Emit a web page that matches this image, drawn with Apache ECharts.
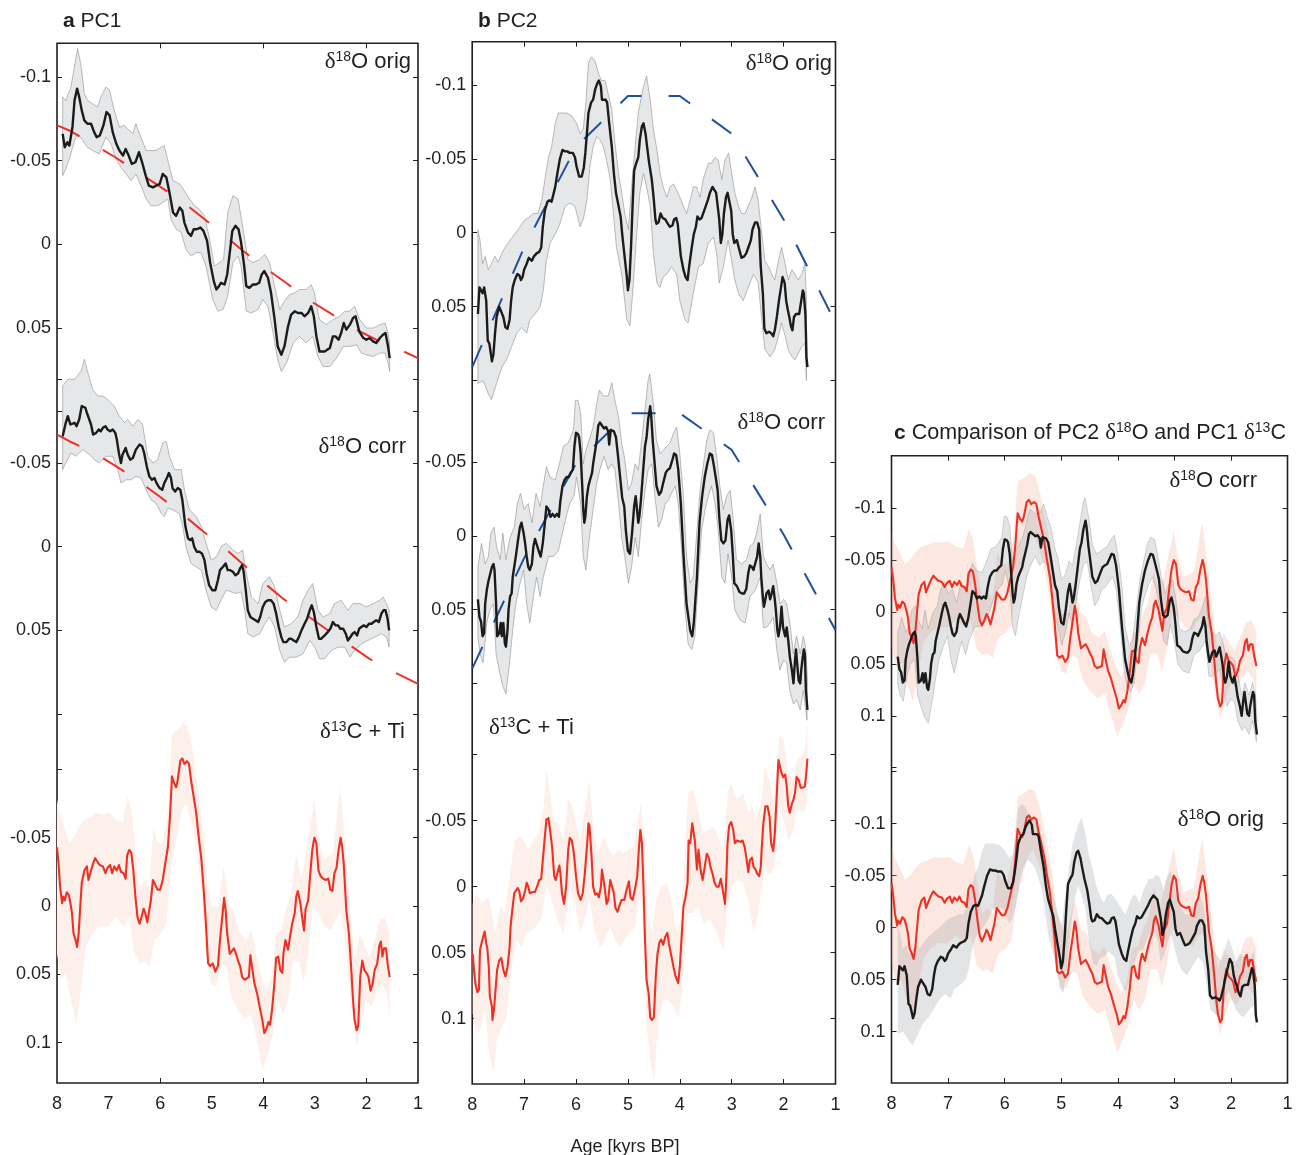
<!DOCTYPE html>
<html>
<head>
<meta charset="utf-8" />
<title>PC1 and PC2 of the stalagmite proxies (8-1.5 kyrs BP)</title>
<script src="https://cdn.jsdelivr.net/npm/echarts@6.0.0/dist/echarts.min.js"></script>
<style>body{margin:0;background:#fff}</style>
</head>
<body>
<div id="grafico" style="width:1298px;height:1155px"></div>
<script>
// ages in kyrs BP, PC scores
const pc1OrigLine = [[7.89,-0.066],[7.85,-0.058],[7.80,-0.061],[7.76,-0.059],[7.70,-0.070],[7.66,-0.086],[7.61,-0.093],[7.57,-0.088],[7.52,-0.080],[7.47,-0.074],[7.41,-0.072],[7.34,-0.072],[7.28,-0.067],[7.23,-0.064],[7.17,-0.065],[7.10,-0.071],[7.04,-0.079],[6.98,-0.077],[6.92,-0.067],[6.85,-0.060],[6.79,-0.056],[6.72,-0.053],[6.67,-0.057],[6.61,-0.053],[6.55,-0.048],[6.48,-0.049],[6.41,-0.055],[6.35,-0.049],[6.28,-0.041],[6.22,-0.035],[6.14,-0.034],[6.08,-0.035],[6.01,-0.036],[5.95,-0.042],[5.88,-0.040],[5.82,-0.031],[5.75,-0.019],[5.69,-0.017],[5.62,-0.022],[5.57,-0.020],[5.53,-0.013],[5.46,-0.007],[5.40,-0.005],[5.35,-0.009],[5.29,-0.009],[5.22,-0.010],[5.16,-0.008],[5.09,-0.002],[5.03,0.011],[4.96,0.022],[4.91,0.027],[4.86,0.025],[4.82,0.023],[4.79,0.024],[4.75,0.024],[4.70,0.018],[4.65,0.005],[4.60,-0.008],[4.54,-0.011],[4.48,-0.009],[4.43,-0.001],[4.37,0.013],[4.33,0.025],[4.27,0.026],[4.20,0.024],[4.14,0.024],[4.08,0.023],[4.03,0.018],[3.98,0.016],[3.91,0.020],[3.85,0.029],[3.78,0.045],[3.72,0.061],[3.65,0.066],[3.59,0.061],[3.52,0.049],[3.46,0.042],[3.39,0.040],[3.33,0.041],[3.26,0.041],[3.20,0.043],[3.13,0.041],[3.07,0.037],[3.02,0.043],[2.97,0.055],[2.91,0.064],[2.81,0.064],[2.71,0.062],[2.65,0.055],[2.60,0.055],[2.54,0.057],[2.49,0.053],[2.44,0.047],[2.39,0.051],[2.32,0.048],[2.26,0.044],[2.21,0.043],[2.14,0.052],[2.06,0.056],[2.00,0.057],[1.94,0.056],[1.87,0.058],[1.81,0.059],[1.74,0.056],[1.68,0.054],[1.63,0.053],[1.58,0.061],[1.55,0.068]];
const pc1OrigHi = [[7.89,-0.088],[7.83,-0.086],[7.73,-0.094],[7.64,-0.110],[7.60,-0.117],[7.53,-0.106],[7.47,-0.090],[7.41,-0.086],[7.31,-0.084],[7.21,-0.082],[7.15,-0.088],[7.05,-0.094],[6.98,-0.092],[6.89,-0.080],[6.79,-0.070],[6.69,-0.071],[6.63,-0.069],[6.53,-0.066],[6.47,-0.072],[6.40,-0.066],[6.27,-0.056],[6.18,-0.056],[6.08,-0.056],[5.98,-0.058],[5.92,-0.059],[5.85,-0.050],[5.75,-0.038],[5.62,-0.036],[5.53,-0.032],[5.43,-0.027],[5.33,-0.023],[5.24,-0.021],[5.14,-0.017],[5.04,-0.003],[4.95,0.013],[4.85,0.011],[4.77,0.009],[4.69,-0.019],[4.59,-0.029],[4.49,-0.027],[4.40,-0.011],[4.30,0.009],[4.20,0.011],[4.07,0.009],[3.97,0.006],[3.88,0.011],[3.78,0.025],[3.68,0.039],[3.59,0.034],[3.49,0.030],[3.39,0.029],[3.30,0.027],[3.17,0.027],[3.07,0.024],[3.01,0.029],[2.91,0.045],[2.78,0.048],[2.65,0.045],[2.52,0.043],[2.42,0.040],[2.33,0.040],[2.23,0.037],[2.13,0.045],[2.00,0.050],[1.87,0.050],[1.74,0.048],[1.64,0.047],[1.58,0.053],[1.55,0.059]];
const pc1OrigLo = [[7.89,-0.041],[7.83,-0.045],[7.75,-0.052],[7.66,-0.062],[7.60,-0.066],[7.50,-0.062],[7.41,-0.058],[7.31,-0.056],[7.18,-0.054],[7.05,-0.064],[6.95,-0.060],[6.86,-0.051],[6.76,-0.046],[6.66,-0.042],[6.56,-0.038],[6.47,-0.042],[6.37,-0.035],[6.27,-0.027],[6.18,-0.023],[6.05,-0.023],[5.95,-0.025],[5.85,-0.027],[5.79,-0.015],[5.69,-0.009],[5.59,-0.007],[5.50,0.003],[5.40,0.007],[5.30,0.005],[5.21,0.005],[5.11,0.013],[4.98,0.033],[4.88,0.040],[4.78,0.039],[4.69,0.031],[4.59,0.011],[4.49,0.007],[4.43,0.013],[4.33,0.040],[4.23,0.041],[4.10,0.039],[4.01,0.033],[3.91,0.037],[3.81,0.053],[3.72,0.069],[3.65,0.076],[3.55,0.071],[3.42,0.059],[3.30,0.055],[3.17,0.059],[3.04,0.055],[2.94,0.067],[2.84,0.073],[2.71,0.073],[2.58,0.068],[2.45,0.061],[2.32,0.061],[2.19,0.060],[2.10,0.065],[2.00,0.066],[1.87,0.067],[1.74,0.065],[1.64,0.065],[1.58,0.071],[1.55,0.076]];
const pc1OrigTrend = [[8.0,-0.071],[7.76,-0.068],[7.31,-0.060],[6.87,-0.052],[6.43,-0.043],[6.03,-0.035],[5.59,-0.026],[5.18,-0.016],[4.78,-0.006],[4.39,0.004],[3.97,0.014],[3.56,0.023],[3.13,0.033],[2.71,0.041],[2.26,0.050],[1.81,0.057],[1.35,0.063],[1.0,0.068]];

const pc1CorrLine = [[7.89,-0.066],[7.86,-0.070],[7.83,-0.074],[7.79,-0.078],[7.76,-0.077],[7.74,-0.073],[7.71,-0.074],[7.66,-0.074],[7.62,-0.072],[7.57,-0.076],[7.52,-0.084],[7.49,-0.085],[7.45,-0.083],[7.42,-0.080],[7.39,-0.080],[7.34,-0.073],[7.30,-0.067],[7.24,-0.068],[7.19,-0.070],[7.15,-0.069],[7.11,-0.071],[7.06,-0.072],[7.02,-0.070],[6.97,-0.069],[6.92,-0.070],[6.87,-0.068],[6.84,-0.064],[6.80,-0.056],[6.76,-0.050],[6.73,-0.055],[6.67,-0.059],[6.63,-0.055],[6.58,-0.052],[6.53,-0.053],[6.47,-0.058],[6.40,-0.061],[6.35,-0.060],[6.31,-0.056],[6.26,-0.048],[6.21,-0.042],[6.16,-0.040],[6.11,-0.041],[6.07,-0.038],[6.01,-0.035],[5.96,-0.034],[5.92,-0.038],[5.87,-0.041],[5.83,-0.044],[5.79,-0.041],[5.76,-0.035],[5.71,-0.033],[5.66,-0.035],[5.61,-0.034],[5.57,-0.028],[5.54,-0.020],[5.51,-0.012],[5.46,-0.005],[5.42,-0.004],[5.38,-0.005],[5.34,0.000],[5.29,0.003],[5.24,0.003],[5.19,0.004],[5.14,0.008],[5.10,0.016],[5.05,0.023],[4.99,0.026],[4.93,0.026],[4.88,0.020],[4.84,0.014],[4.78,0.012],[4.73,0.010],[4.69,0.014],[4.64,0.014],[4.59,0.015],[4.54,0.017],[4.49,0.016],[4.45,0.013],[4.41,0.011],[4.38,0.015],[4.34,0.026],[4.30,0.038],[4.25,0.042],[4.20,0.043],[4.15,0.044],[4.10,0.045],[4.06,0.042],[4.01,0.036],[3.96,0.033],[3.91,0.032],[3.85,0.032],[3.80,0.034],[3.75,0.040],[3.70,0.048],[3.65,0.054],[3.61,0.057],[3.55,0.057],[3.50,0.055],[3.46,0.055],[3.41,0.056],[3.36,0.057],[3.31,0.054],[3.26,0.050],[3.20,0.046],[3.15,0.043],[3.10,0.038],[3.06,0.035],[3.02,0.039],[2.97,0.048],[2.92,0.055],[2.88,0.055],[2.81,0.053],[2.75,0.051],[2.70,0.049],[2.65,0.045],[2.60,0.047],[2.55,0.047],[2.51,0.049],[2.45,0.049],[2.40,0.052],[2.36,0.056],[2.31,0.054],[2.27,0.052],[2.23,0.051],[2.18,0.053],[2.14,0.049],[2.10,0.048],[2.05,0.047],[2.00,0.048],[1.95,0.046],[1.90,0.046],[1.86,0.045],[1.81,0.044],[1.76,0.045],[1.71,0.040],[1.67,0.038],[1.63,0.038],[1.59,0.043],[1.56,0.050]];
const pc1CorrHi = [[7.89,-0.096],[7.79,-0.100],[7.66,-0.100],[7.53,-0.105],[7.47,-0.112],[7.41,-0.105],[7.31,-0.094],[7.21,-0.090],[7.11,-0.090],[7.02,-0.088],[6.89,-0.084],[6.79,-0.078],[6.69,-0.074],[6.63,-0.076],[6.53,-0.072],[6.43,-0.076],[6.34,-0.073],[6.24,-0.054],[6.14,-0.050],[6.05,-0.052],[5.95,-0.062],[5.88,-0.063],[5.82,-0.054],[5.72,-0.046],[5.59,-0.046],[5.53,-0.034],[5.43,-0.022],[5.30,-0.018],[5.20,-0.012],[5.11,-0.002],[5.01,0.008],[4.91,0.006],[4.82,0.000],[4.72,-0.002],[4.59,0.002],[4.49,0.004],[4.40,0.002],[4.33,0.016],[4.23,0.030],[4.10,0.034],[4.01,0.022],[3.88,0.018],[3.78,0.024],[3.68,0.038],[3.59,0.048],[3.46,0.046],[3.33,0.042],[3.23,0.032],[3.13,0.026],[3.04,0.022],[2.94,0.038],[2.84,0.042],[2.71,0.040],[2.62,0.034],[2.49,0.032],[2.36,0.038],[2.26,0.034],[2.13,0.034],[2.00,0.036],[1.87,0.034],[1.74,0.032],[1.68,0.030],[1.61,0.034],[1.56,0.038]];
const pc1CorrLo = [[7.89,-0.046],[7.83,-0.050],[7.73,-0.056],[7.63,-0.054],[7.50,-0.058],[7.37,-0.055],[7.28,-0.052],[7.18,-0.050],[7.05,-0.054],[6.92,-0.054],[6.82,-0.046],[6.76,-0.038],[6.66,-0.040],[6.56,-0.040],[6.47,-0.042],[6.37,-0.041],[6.27,-0.034],[6.18,-0.028],[6.08,-0.026],[5.98,-0.020],[5.92,-0.018],[5.85,-0.023],[5.76,-0.022],[5.63,-0.020],[5.56,-0.012],[5.50,0.000],[5.40,0.010],[5.30,0.012],[5.20,0.014],[5.11,0.026],[5.01,0.036],[4.91,0.038],[4.82,0.032],[4.72,0.026],[4.62,0.027],[4.53,0.028],[4.43,0.027],[4.36,0.038],[4.30,0.052],[4.20,0.054],[4.07,0.052],[3.97,0.046],[3.88,0.042],[3.78,0.048],[3.68,0.062],[3.59,0.069],[3.49,0.066],[3.36,0.066],[3.23,0.064],[3.10,0.056],[3.00,0.060],[2.91,0.067],[2.81,0.067],[2.68,0.062],[2.55,0.060],[2.42,0.060],[2.32,0.066],[2.23,0.062],[2.10,0.058],[1.97,0.056],[1.84,0.054],[1.71,0.052],[1.61,0.054],[1.56,0.060]];
const pc1CorrTrend = [[8.0,-0.067],[7.76,-0.063],[7.28,-0.056],[6.85,-0.048],[6.41,-0.039],[6.01,-0.030],[5.59,-0.020],[5.20,-0.010],[4.78,0.000],[4.41,0.010],[4.01,0.021],[3.62,0.031],[3.20,0.040],[2.79,0.049],[2.36,0.058],[1.94,0.067],[1.46,0.075],[1.0,0.082]];

const pc1CarbLine = [[8.00,-0.043],[7.97,-0.031],[7.94,-0.014],[7.90,-0.002],[7.88,-0.007],[7.85,-0.004],[7.81,-0.010],[7.77,-0.008],[7.74,-0.002],[7.71,0.005],[7.68,0.020],[7.64,0.025],[7.61,0.030],[7.58,0.020],[7.55,0.001],[7.52,-0.017],[7.47,-0.026],[7.42,-0.029],[7.39,-0.019],[7.34,-0.026],[7.30,-0.031],[7.26,-0.035],[7.21,-0.032],[7.17,-0.030],[7.11,-0.029],[7.06,-0.024],[7.02,-0.028],[6.97,-0.030],[6.93,-0.024],[6.89,-0.029],[6.84,-0.026],[6.80,-0.030],[6.76,-0.025],[6.71,-0.024],[6.67,-0.020],[6.64,-0.037],[6.60,-0.041],[6.56,-0.039],[6.52,-0.026],[6.48,-0.007],[6.44,0.008],[6.40,0.013],[6.36,0.008],[6.32,0.002],[6.29,0.005],[6.25,0.012],[6.22,0.013],[6.18,-0.004],[6.14,-0.019],[6.09,-0.015],[6.05,-0.012],[6.00,-0.012],[5.95,-0.019],[5.91,-0.029],[5.85,-0.043],[5.81,-0.065],[5.77,-0.095],[5.73,-0.090],[5.69,-0.087],[5.66,-0.092],[5.61,-0.106],[5.57,-0.108],[5.53,-0.104],[5.48,-0.106],[5.44,-0.104],[5.40,-0.092],[5.35,-0.080],[5.30,-0.068],[5.26,-0.053],[5.20,-0.034],[5.16,-0.014],[5.12,0.008],[5.07,0.042],[5.03,0.044],[4.98,0.042],[4.93,0.048],[4.88,0.044],[4.84,0.025],[4.80,0.010],[4.76,-0.006],[4.73,0.003],[4.70,0.020],[4.65,0.035],[4.61,0.033],[4.57,0.031],[4.52,0.036],[4.49,0.040],[4.45,0.044],[4.41,0.052],[4.36,0.054],[4.32,0.053],[4.28,0.052],[4.25,0.036],[4.21,0.047],[4.17,0.057],[4.12,0.064],[4.07,0.074],[4.02,0.083],[3.98,0.093],[3.94,0.090],[3.90,0.085],[3.87,0.087],[3.83,0.076],[3.79,0.059],[3.75,0.038],[3.71,0.037],[3.67,0.047],[3.63,0.049],[3.61,0.035],[3.57,0.025],[3.52,0.032],[3.48,0.022],[3.44,0.013],[3.39,0.005],[3.36,-0.007],[3.33,-0.011],[3.28,-0.002],[3.24,0.010],[3.21,0.018],[3.18,0.002],[3.13,-0.004],[3.09,-0.023],[3.05,-0.041],[3.01,-0.050],[2.97,-0.046],[2.93,-0.026],[2.89,-0.022],[2.84,-0.020],[2.79,-0.019],[2.74,-0.020],[2.70,-0.012],[2.66,-0.011],[2.62,-0.024],[2.58,-0.028],[2.54,-0.041],[2.50,-0.050],[2.47,-0.043],[2.44,-0.031],[2.39,0.003],[2.34,0.020],[2.29,0.049],[2.26,0.069],[2.23,0.083],[2.19,0.091],[2.16,0.088],[2.12,0.052],[2.08,0.040],[2.04,0.047],[2.00,0.049],[1.96,0.052],[1.92,0.062],[1.88,0.057],[1.84,0.047],[1.79,0.042],[1.75,0.029],[1.72,0.026],[1.69,0.037],[1.66,0.031],[1.62,0.031],[1.59,0.042],[1.55,0.052]];
const pc1CarbHi = [[8.00,-0.078],[7.95,-0.068],[7.86,-0.058],[7.76,-0.046],[7.66,-0.051],[7.57,-0.058],[7.47,-0.063],[7.34,-0.065],[7.24,-0.068],[7.11,-0.067],[6.98,-0.068],[6.86,-0.063],[6.73,-0.061],[6.63,-0.080],[6.56,-0.070],[6.50,-0.048],[6.40,-0.014],[6.30,-0.019],[6.21,-0.014],[6.13,-0.058],[6.05,-0.046],[5.95,-0.046],[5.85,-0.070],[5.77,-0.126],[5.66,-0.129],[5.56,-0.134],[5.46,-0.131],[5.37,-0.114],[5.27,-0.087],[5.17,-0.058],[5.07,-0.014],[4.98,0.001],[4.88,0.001],[4.77,-0.029],[4.65,0.001],[4.56,0.005],[4.46,0.020],[4.33,0.025],[4.23,0.018],[4.14,0.035],[4.04,0.052],[3.94,0.062],[3.84,0.052],[3.75,0.020],[3.65,0.018],[3.55,0.001],[3.46,-0.009],[3.36,-0.039],[3.26,-0.019],[3.17,-0.039],[3.07,-0.063],[3.01,-0.078],[2.94,-0.053],[2.84,-0.034],[2.75,-0.036],[2.65,-0.039],[2.55,-0.073],[2.51,-0.087],[2.42,-0.048],[2.33,-0.004],[2.23,0.040],[2.13,0.020],[2.03,0.030],[1.94,0.037],[1.84,0.025],[1.74,0.010],[1.64,0.008],[1.55,0.020]];
const pc1CarbLo = [[8.00,0.035],[7.92,0.054],[7.83,0.049],[7.73,0.069],[7.62,0.086],[7.53,0.059],[7.44,0.030],[7.31,0.020],[7.18,0.015],[7.02,0.015],[6.86,0.008],[6.69,0.015],[6.60,0.008],[6.50,0.035],[6.40,0.042],[6.30,0.040],[6.21,0.044],[6.11,0.025],[5.98,0.020],[5.88,0.013],[5.79,-0.029],[5.69,-0.048],[5.59,-0.068],[5.50,-0.075],[5.40,-0.063],[5.30,-0.043],[5.21,-0.014],[5.11,0.035],[5.01,0.057],[4.91,0.059],[4.82,0.042],[4.72,0.044],[4.62,0.066],[4.49,0.076],[4.36,0.083],[4.23,0.079],[4.10,0.103],[4.01,0.120],[3.91,0.108],[3.81,0.093],[3.72,0.069],[3.62,0.079],[3.52,0.069],[3.42,0.040],[3.30,0.040],[3.22,0.057],[3.13,0.035],[3.04,0.001],[2.94,0.005],[2.81,0.015],[2.68,0.018],[2.58,0.008],[2.49,0.005],[2.39,0.035],[2.29,0.076],[2.19,0.103],[2.10,0.083],[2.00,0.069],[1.90,0.074],[1.81,0.064],[1.71,0.057],[1.61,0.064],[1.55,0.081]];

const pc2OrigLine = [[7.89,0.055],[7.86,0.037],[7.83,0.037],[7.80,0.041],[7.77,0.037],[7.73,0.046],[7.70,0.073],[7.67,0.075],[7.64,0.082],[7.62,0.087],[7.59,0.082],[7.56,0.068],[7.53,0.057],[7.48,0.050],[7.45,0.049],[7.40,0.057],[7.36,0.064],[7.32,0.065],[7.28,0.059],[7.25,0.046],[7.22,0.037],[7.18,0.032],[7.13,0.028],[7.09,0.029],[7.06,0.032],[7.03,0.030],[7.00,0.025],[6.95,0.021],[6.91,0.017],[6.85,0.019],[6.81,0.016],[6.76,0.014],[6.71,0.013],[6.67,0.010],[6.64,-0.004],[6.60,-0.015],[6.55,-0.021],[6.51,-0.022],[6.47,-0.021],[6.44,-0.022],[6.40,-0.031],[6.36,-0.040],[6.31,-0.050],[6.26,-0.056],[6.21,-0.055],[6.17,-0.055],[6.12,-0.054],[6.06,-0.054],[6.02,-0.051],[5.99,-0.045],[5.94,-0.038],[5.89,-0.038],[5.85,-0.044],[5.82,-0.054],[5.79,-0.067],[5.76,-0.081],[5.71,-0.088],[5.67,-0.090],[5.63,-0.097],[5.59,-0.101],[5.56,-0.103],[5.52,-0.099],[5.50,-0.090],[5.47,-0.089],[5.43,-0.090],[5.40,-0.088],[5.36,-0.074],[5.31,-0.058],[5.27,-0.040],[5.23,-0.027],[5.18,-0.018],[5.14,-0.011],[5.11,0.001],[5.07,0.014],[5.02,0.030],[5.00,0.039],[4.97,0.032],[4.94,0.010],[4.91,-0.018],[4.88,-0.042],[4.84,-0.047],[4.80,-0.051],[4.77,-0.063],[4.73,-0.072],[4.70,-0.074],[4.66,-0.067],[4.63,-0.058],[4.59,-0.047],[4.54,-0.036],[4.50,-0.022],[4.47,-0.009],[4.45,-0.006],[4.41,-0.007],[4.37,-0.013],[4.33,-0.010],[4.28,-0.009],[4.23,-0.006],[4.19,-0.004],[4.14,-0.005],[4.11,-0.009],[4.07,-0.010],[4.04,-0.006],[4.01,0.005],[3.98,0.016],[3.93,0.025],[3.89,0.030],[3.85,0.032],[3.82,0.023],[3.77,0.010],[3.73,0.001],[3.69,-0.004],[3.66,-0.011],[3.62,-0.009],[3.58,-0.010],[3.55,-0.011],[3.50,-0.018],[3.46,-0.022],[3.42,-0.027],[3.37,-0.031],[3.34,-0.031],[3.30,-0.027],[3.27,-0.018],[3.24,-0.009],[3.21,0.007],[3.18,0.001],[3.15,-0.013],[3.11,-0.024],[3.08,-0.027],[3.05,-0.027],[3.01,-0.015],[2.98,0.001],[2.95,0.007],[2.90,0.005],[2.85,0.012],[2.81,0.017],[2.76,0.016],[2.72,0.014],[2.68,0.010],[2.63,0.005],[2.60,-0.002],[2.55,-0.007],[2.51,-0.007],[2.47,-0.002],[2.44,0.023],[2.40,0.041],[2.37,0.065],[2.33,0.068],[2.28,0.067],[2.24,0.068],[2.20,0.070],[2.17,0.066],[2.13,0.057],[2.09,0.046],[2.05,0.037],[2.02,0.030],[1.98,0.034],[1.95,0.046],[1.92,0.052],[1.89,0.057],[1.86,0.063],[1.83,0.066],[1.80,0.057],[1.76,0.055],[1.73,0.054],[1.70,0.055],[1.66,0.046],[1.63,0.039],[1.61,0.041],[1.58,0.055],[1.57,0.068],[1.56,0.084],[1.54,0.091]];
const pc2OrigHi = [[7.89,-0.002],[7.85,0.005],[7.80,0.021],[7.75,0.016],[7.69,0.025],[7.63,0.021],[7.56,0.016],[7.50,0.020],[7.43,0.014],[7.37,0.010],[7.27,0.005],[7.18,0.001],[7.08,-0.004],[6.98,-0.009],[6.92,-0.010],[6.82,-0.013],[6.73,-0.013],[6.66,-0.022],[6.60,-0.036],[6.53,-0.051],[6.47,-0.058],[6.40,-0.074],[6.34,-0.081],[6.28,-0.081],[6.18,-0.081],[6.08,-0.079],[5.99,-0.074],[5.92,-0.067],[5.86,-0.070],[5.81,-0.088],[5.76,-0.115],[5.70,-0.119],[5.63,-0.116],[5.57,-0.108],[5.51,-0.103],[5.44,-0.103],[5.38,-0.094],[5.31,-0.083],[5.25,-0.061],[5.18,-0.040],[5.12,-0.027],[5.06,-0.013],[4.99,-0.002],[4.93,-0.031],[4.86,-0.058],[4.80,-0.081],[4.70,-0.099],[4.64,-0.106],[4.57,-0.090],[4.51,-0.070],[4.44,-0.056],[4.38,-0.040],[4.32,-0.031],[4.25,-0.024],[4.19,-0.031],[4.12,-0.033],[4.06,-0.029],[4.00,-0.024],[3.93,-0.018],[3.87,-0.013],[3.80,-0.022],[3.74,-0.031],[3.68,-0.031],[3.61,-0.024],[3.55,-0.036],[3.45,-0.047],[3.39,-0.047],[3.32,-0.051],[3.26,-0.049],[3.19,-0.036],[3.13,-0.049],[3.06,-0.054],[3.00,-0.040],[2.94,-0.027],[2.87,-0.018],[2.81,-0.013],[2.74,-0.013],[2.68,-0.018],[2.61,-0.024],[2.55,-0.031],[2.49,-0.022],[2.42,0.001],[2.36,0.019],[2.29,0.023],[2.23,0.028],[2.17,0.032],[2.10,0.019],[2.04,0.010],[1.97,0.021],[1.91,0.032],[1.84,0.025],[1.78,0.028],[1.72,0.032],[1.65,0.028],[1.59,0.021],[1.56,0.046]];
const pc2OrigLo = [[7.89,0.102],[7.79,0.100],[7.69,0.109],[7.63,0.113],[7.53,0.102],[7.43,0.091],[7.34,0.086],[7.24,0.077],[7.14,0.068],[7.05,0.064],[6.95,0.068],[6.89,0.059],[6.79,0.055],[6.69,0.050],[6.63,0.039],[6.57,0.019],[6.50,0.007],[6.40,0.001],[6.31,-0.006],[6.21,-0.018],[6.12,-0.020],[6.02,-0.018],[5.92,-0.004],[5.86,-0.009],[5.79,-0.022],[5.73,-0.045],[5.67,-0.058],[5.60,-0.065],[5.54,-0.063],[5.47,-0.058],[5.41,-0.049],[5.34,-0.036],[5.28,-0.013],[5.22,0.010],[5.12,0.028],[5.02,0.059],[4.96,0.063],[4.90,0.037],[4.83,0.001],[4.77,-0.027],[4.70,-0.040],[4.64,-0.031],[4.57,-0.018],[4.51,0.014],[4.44,0.034],[4.38,0.037],[4.32,0.030],[4.25,0.028],[4.16,0.023],[4.06,0.028],[4.00,0.046],[3.90,0.059],[3.84,0.061],[3.74,0.041],[3.64,0.023],[3.55,0.021],[3.45,0.007],[3.35,0.003],[3.29,0.014],[3.24,0.034],[3.16,0.023],[3.07,0.005],[3.00,0.019],[2.94,0.032],[2.87,0.041],[2.78,0.046],[2.68,0.037],[2.58,0.028],[2.49,0.034],[2.42,0.059],[2.36,0.079],[2.26,0.084],[2.17,0.079],[2.10,0.070],[2.04,0.061],[1.97,0.070],[1.91,0.079],[1.84,0.084],[1.78,0.086],[1.72,0.082],[1.65,0.077],[1.59,0.075],[1.56,0.100]];
const pc2OrigModel = [[8,0.091],[7,0.010],[6,-0.058],[5,-0.0925],[4,-0.0925],[3,-0.067],[2,-0.009],[1,0.061]];

const pc2CorrLine = [[7.89,0.043],[7.86,0.055],[7.83,0.058],[7.80,0.068],[7.77,0.066],[7.75,0.046],[7.72,0.037],[7.69,0.031],[7.66,0.032],[7.62,0.021],[7.59,0.019],[7.57,0.023],[7.54,0.046],[7.52,0.068],[7.48,0.066],[7.45,0.059],[7.43,0.068],[7.40,0.059],[7.37,0.073],[7.35,0.075],[7.32,0.064],[7.30,0.050],[7.27,0.041],[7.24,0.039],[7.22,0.028],[7.19,0.021],[7.16,0.014],[7.11,0.001],[7.08,-0.006],[7.05,-0.009],[7.01,-0.002],[6.98,0.005],[6.95,0.014],[6.92,0.021],[6.89,0.023],[6.85,0.019],[6.82,0.007],[6.79,0.002],[6.76,0.001],[6.72,0.010],[6.68,0.014],[6.64,0.005],[6.60,-0.009],[6.57,-0.020],[6.53,-0.018],[6.49,-0.013],[6.45,-0.015],[6.41,-0.013],[6.37,-0.015],[6.33,-0.013],[6.30,-0.024],[6.26,-0.034],[6.22,-0.038],[6.18,-0.040],[6.14,-0.040],[6.10,-0.043],[6.06,-0.045],[6.03,-0.061],[6.00,-0.070],[5.96,-0.069],[5.94,-0.067],[5.91,-0.056],[5.88,-0.034],[5.86,-0.018],[5.84,-0.009],[5.82,-0.013],[5.79,-0.027],[5.76,-0.034],[5.73,-0.038],[5.69,-0.043],[5.67,-0.049],[5.63,-0.058],[5.60,-0.065],[5.57,-0.075],[5.54,-0.077],[5.50,-0.075],[5.46,-0.073],[5.42,-0.074],[5.38,-0.071],[5.36,-0.062],[5.33,-0.072],[5.31,-0.073],[5.27,-0.071],[5.23,-0.067],[5.19,-0.054],[5.15,-0.040],[5.11,-0.026],[5.07,-0.020],[5.04,-0.004],[5.00,0.010],[4.96,0.012],[4.92,-0.002],[4.88,-0.020],[4.85,-0.027],[4.83,-0.020],[4.80,-0.009],[4.78,-0.013],[4.75,-0.024],[4.72,-0.038],[4.67,-0.061],[4.64,-0.067],[4.61,-0.079],[4.57,-0.088],[4.55,-0.081],[4.52,-0.064],[4.48,-0.047],[4.45,-0.034],[4.40,-0.028],[4.36,-0.030],[4.32,-0.036],[4.27,-0.043],[4.23,-0.045],[4.19,-0.046],[4.14,-0.052],[4.11,-0.056],[4.07,-0.055],[4.03,-0.045],[3.98,-0.022],[3.93,0.012],[3.87,0.046],[3.80,0.064],[3.76,0.068],[3.73,0.059],[3.67,0.028],[3.62,-0.009],[3.57,-0.027],[3.52,-0.040],[3.47,-0.049],[3.42,-0.056],[3.38,-0.055],[3.34,-0.047],[3.30,-0.038],[3.27,-0.031],[3.24,-0.013],[3.20,0.003],[3.16,0.005],[3.12,0.003],[3.08,-0.011],[3.05,-0.014],[3.01,-0.004],[2.98,0.012],[2.95,0.032],[2.90,0.034],[2.85,0.038],[2.80,0.039],[2.76,0.039],[2.72,0.036],[2.68,0.025],[2.65,0.020],[2.61,0.021],[2.58,0.023],[2.55,0.019],[2.51,0.014],[2.48,0.005],[2.45,0.014],[2.43,0.028],[2.40,0.041],[2.38,0.048],[2.35,0.043],[2.33,0.039],[2.29,0.037],[2.26,0.043],[2.23,0.039],[2.20,0.034],[2.17,0.043],[2.15,0.050],[2.12,0.064],[2.10,0.068],[2.07,0.062],[2.04,0.048],[2.01,0.062],[1.97,0.068],[1.94,0.062],[1.91,0.071],[1.88,0.082],[1.84,0.091],[1.81,0.100],[1.78,0.084],[1.76,0.077],[1.74,0.086],[1.71,0.098],[1.68,0.100],[1.66,0.091],[1.63,0.082],[1.61,0.077],[1.59,0.080],[1.57,0.105],[1.54,0.118]];
const pc2CorrHi = [[7.89,0.021],[7.82,0.005],[7.75,0.019],[7.69,0.014],[7.64,-0.002],[7.58,-0.006],[7.53,0.007],[7.46,0.016],[7.41,-0.002],[7.35,0.016],[7.27,0.001],[7.19,-0.006],[7.13,-0.022],[7.07,-0.029],[7.00,-0.018],[6.92,-0.022],[6.85,-0.009],[6.77,-0.029],[6.69,-0.020],[6.63,-0.034],[6.57,-0.047],[6.50,-0.040],[6.40,-0.038],[6.32,-0.049],[6.24,-0.061],[6.15,-0.063],[6.05,-0.072],[6.01,-0.092],[5.96,-0.092],[5.91,-0.083],[5.86,-0.049],[5.81,-0.058],[5.73,-0.067],[5.67,-0.074],[5.60,-0.090],[5.55,-0.099],[5.47,-0.095],[5.38,-0.095],[5.31,-0.104],[5.25,-0.092],[5.18,-0.081],[5.12,-0.063],[5.06,-0.052],[4.99,-0.031],[4.93,-0.036],[4.86,-0.049],[4.80,-0.045],[4.74,-0.063],[4.67,-0.086],[4.61,-0.106],[4.58,-0.110],[4.51,-0.090],[4.45,-0.065],[4.38,-0.056],[4.32,-0.058],[4.25,-0.061],[4.19,-0.063],[4.12,-0.070],[4.06,-0.074],[4.00,-0.056],[3.93,-0.027],[3.87,0.014],[3.80,0.032],[3.74,0.028],[3.68,0.001],[3.61,-0.031],[3.55,-0.047],[3.48,-0.065],[3.42,-0.072],[3.35,-0.070],[3.29,-0.054],[3.23,-0.034],[3.16,-0.018],[3.10,-0.027],[3.03,-0.031],[2.97,-0.011],[2.91,0.016],[2.81,0.019],[2.71,0.016],[2.65,0.007],[2.58,0.005],[2.52,-0.002],[2.45,-0.015],[2.39,0.014],[2.33,0.019],[2.26,0.023],[2.20,0.019],[2.13,0.032],[2.07,0.046],[2.00,0.043],[1.94,0.046],[1.88,0.059],[1.81,0.080],[1.75,0.068],[1.68,0.080],[1.62,0.068],[1.57,0.077],[1.54,0.098]];
const pc2CorrLo = [[7.89,0.068],[7.85,0.080],[7.79,0.086],[7.72,0.059],[7.66,0.050],[7.59,0.046],[7.54,0.080],[7.48,0.091],[7.41,0.102],[7.35,0.107],[7.28,0.086],[7.22,0.064],[7.16,0.046],[7.09,0.034],[7.01,0.023],[6.95,0.046],[6.89,0.059],[6.82,0.041],[6.76,0.028],[6.69,0.041],[6.63,0.028],[6.53,0.014],[6.44,0.014],[6.34,0.010],[6.28,0.001],[6.19,-0.013],[6.12,-0.022],[6.04,-0.027],[5.99,-0.040],[5.91,-0.022],[5.86,0.014],[5.81,0.023],[5.74,0.001],[5.67,-0.018],[5.60,-0.036],[5.54,-0.045],[5.46,-0.054],[5.38,-0.045],[5.31,-0.049],[5.25,-0.045],[5.18,-0.022],[5.12,0.001],[5.06,0.014],[4.99,0.032],[4.93,0.021],[4.86,0.001],[4.80,0.014],[4.74,-0.009],[4.67,-0.031],[4.61,-0.045],[4.54,-0.049],[4.48,-0.027],[4.41,-0.006],[4.35,-0.011],[4.28,-0.022],[4.22,-0.024],[4.16,-0.029],[4.09,-0.034],[4.03,-0.022],[3.96,0.012],[3.90,0.050],[3.84,0.073],[3.77,0.077],[3.71,0.068],[3.64,0.028],[3.58,-0.004],[3.51,-0.018],[3.45,-0.027],[3.39,-0.034],[3.32,-0.022],[3.26,-0.004],[3.19,0.028],[3.13,0.032],[3.07,0.012],[3.00,0.028],[2.94,0.050],[2.84,0.057],[2.74,0.059],[2.65,0.041],[2.55,0.037],[2.45,0.028],[2.39,0.062],[2.33,0.062],[2.26,0.059],[2.20,0.055],[2.13,0.077],[2.07,0.091],[2.00,0.084],[1.94,0.086],[1.88,0.105],[1.81,0.114],[1.75,0.111],[1.68,0.118],[1.62,0.105],[1.55,0.125]];
const pc2CorrModel = [[8,0.090],[7,0.015],[6,-0.049],[5,-0.0833],[4,-0.0833],[3,-0.0584],[2,-0.001],[1,0.064]];

const pc2CarbLine = [[7.99,0.051],[7.97,0.061],[7.94,0.073],[7.90,0.080],[7.87,0.078],[7.85,0.048],[7.82,0.047],[7.79,0.038],[7.76,0.034],[7.73,0.043],[7.71,0.046],[7.68,0.061],[7.66,0.083],[7.62,0.091],[7.61,0.101],[7.58,0.093],[7.55,0.078],[7.52,0.063],[7.48,0.056],[7.44,0.054],[7.40,0.063],[7.36,0.068],[7.32,0.061],[7.28,0.046],[7.26,0.030],[7.22,0.015],[7.19,0.005],[7.16,0.003],[7.12,0.001],[7.09,0.004],[7.06,0.011],[7.02,0.009],[6.98,0.003],[6.95,-0.003],[6.92,0.000],[6.89,0.005],[6.83,0.004],[6.79,0.004],[6.75,0.000],[6.71,-0.005],[6.67,-0.006],[6.64,-0.020],[6.60,-0.038],[6.57,-0.051],[6.53,-0.052],[6.50,-0.043],[6.46,-0.030],[6.42,-0.008],[6.39,-0.005],[6.36,-0.010],[6.32,-0.016],[6.30,-0.010],[6.27,0.005],[6.23,0.013],[6.19,0.000],[6.15,-0.028],[6.12,-0.037],[6.08,-0.035],[6.04,-0.025],[6.00,-0.008],[5.96,0.005],[5.91,0.010],[5.87,0.005],[5.83,-0.010],[5.81,-0.020],[5.78,-0.035],[5.76,-0.048],[5.74,-0.046],[5.70,-0.023],[5.67,0.000],[5.63,0.006],[5.59,0.005],[5.56,0.008],[5.52,0.000],[5.50,-0.013],[5.47,-0.014],[5.45,0.000],[5.41,0.013],[5.38,0.010],[5.34,-0.005],[5.31,-0.004],[5.27,0.005],[5.24,0.016],[5.20,0.019],[5.16,0.014],[5.12,0.010],[5.07,0.010],[5.04,0.005],[5.01,0.000],[4.98,-0.004],[4.95,0.008],[4.91,0.010],[4.88,0.005],[4.85,-0.001],[4.82,-0.008],[4.79,-0.028],[4.76,-0.043],[4.73,-0.033],[4.70,0.000],[4.67,0.040],[4.64,0.071],[4.60,0.081],[4.57,0.099],[4.54,0.101],[4.50,0.099],[4.46,0.066],[4.43,0.051],[4.39,0.042],[4.36,0.040],[4.32,0.044],[4.28,0.038],[4.24,0.035],[4.21,0.043],[4.17,0.051],[4.12,0.061],[4.08,0.068],[4.03,0.073],[4.00,0.061],[3.96,0.035],[3.93,0.015],[3.89,0.008],[3.85,-0.003],[3.83,-0.035],[3.80,-0.033],[3.76,-0.048],[3.73,-0.047],[3.71,-0.035],[3.67,-0.013],[3.64,-0.028],[3.60,-0.013],[3.56,-0.005],[3.52,-0.015],[3.48,-0.025],[3.44,-0.022],[3.41,-0.015],[3.37,-0.010],[3.33,-0.003],[3.29,0.000],[3.25,0.000],[3.21,-0.006],[3.17,0.003],[3.13,0.013],[3.11,0.000],[3.08,-0.033],[3.05,-0.046],[3.01,-0.049],[2.97,-0.043],[2.94,-0.033],[2.90,-0.035],[2.87,-0.035],[2.83,-0.034],[2.79,-0.035],[2.75,-0.030],[2.71,-0.020],[2.68,-0.011],[2.65,-0.020],[2.61,-0.022],[2.58,-0.015],[2.54,-0.013],[2.51,-0.010],[2.47,-0.008],[2.44,-0.015],[2.42,-0.030],[2.39,-0.048],[2.35,-0.061],[2.31,-0.061],[2.27,-0.053],[2.24,-0.033],[2.20,-0.027],[2.17,-0.040],[2.13,-0.071],[2.10,-0.096],[2.07,-0.097],[2.04,-0.086],[2.01,-0.083],[1.97,-0.085],[1.94,-0.076],[1.91,-0.061],[1.88,-0.056],[1.84,-0.063],[1.81,-0.066],[1.78,-0.071],[1.75,-0.083],[1.71,-0.081],[1.67,-0.075],[1.63,-0.075],[1.59,-0.076],[1.57,-0.083],[1.54,-0.097]];
const pc2CarbHi = [[7.99,0.013],[7.91,0.005],[7.82,0.013],[7.75,0.010],[7.69,0.008],[7.62,0.020],[7.56,0.035],[7.46,0.015],[7.37,0.020],[7.27,-0.010],[7.18,-0.035],[7.08,-0.038],[6.98,-0.033],[6.92,-0.028],[6.82,-0.035],[6.73,-0.040],[6.63,-0.058],[6.57,-0.088],[6.50,-0.071],[6.44,-0.051],[6.34,-0.048],[6.24,-0.035],[6.15,-0.066],[6.08,-0.063],[5.99,-0.046],[5.92,-0.035],[5.83,-0.058],[5.74,-0.081],[5.67,-0.046],[5.57,-0.025],[5.47,-0.038],[5.38,-0.030],[5.28,-0.023],[5.18,-0.028],[5.09,-0.025],[4.99,-0.028],[4.89,-0.030],[4.83,-0.046],[4.75,-0.063],[4.67,-0.030],[4.61,0.020],[4.54,0.035],[4.45,0.010],[4.35,0.000],[4.25,-0.003],[4.16,0.010],[4.06,0.035],[3.98,0.025],[3.90,-0.025],[3.84,-0.071],[3.74,-0.073],[3.64,-0.056],[3.55,-0.040],[3.45,-0.043],[3.35,-0.046],[3.26,-0.038],[3.16,-0.028],[3.07,-0.073],[3.00,-0.078],[2.90,-0.066],[2.78,-0.071],[2.68,-0.056],[2.61,-0.061],[2.52,-0.051],[2.42,-0.066],[2.36,-0.091],[2.29,-0.083],[2.20,-0.066],[2.13,-0.091],[2.08,-0.114],[2.00,-0.111],[1.91,-0.086],[1.81,-0.081],[1.75,-0.096],[1.65,-0.099],[1.59,-0.104],[1.54,-0.126]];
const pc2CarbLo = [[7.99,0.096],[7.91,0.111],[7.85,0.109],[7.75,0.091],[7.69,0.121],[7.62,0.136],[7.58,0.141],[7.53,0.116],[7.43,0.106],[7.34,0.099],[7.24,0.061],[7.14,0.040],[7.05,0.046],[6.95,0.035],[6.85,0.033],[6.76,0.030],[6.66,0.023],[6.57,0.000],[6.50,0.005],[6.40,0.020],[6.31,0.030],[6.23,0.035],[6.12,0.000],[6.02,0.013],[5.92,0.035],[5.83,0.023],[5.74,0.010],[5.63,0.035],[5.54,0.046],[5.44,0.040],[5.34,0.030],[5.25,0.040],[5.15,0.046],[5.06,0.040],[4.96,0.035],[4.86,0.030],[4.77,0.003],[4.70,0.040],[4.64,0.106],[4.57,0.131],[4.50,0.147],[4.41,0.101],[4.32,0.086],[4.22,0.086],[4.12,0.091],[4.03,0.099],[3.96,0.081],[3.90,0.046],[3.84,0.020],[3.74,0.020],[3.64,0.015],[3.55,0.028],[3.42,0.025],[3.29,0.035],[3.16,0.048],[3.08,0.015],[3.00,0.000],[2.90,-0.005],[2.78,-0.003],[2.68,0.010],[2.58,0.035],[2.49,0.020],[2.42,0.000],[2.36,-0.015],[2.29,-0.010],[2.23,-0.010],[2.16,-0.020],[2.10,-0.061],[2.00,-0.051],[1.91,-0.035],[1.81,-0.043],[1.75,-0.061],[1.65,-0.056],[1.59,-0.058],[1.54,-0.066]];

// axis ticks and labels
const ageLabels = [8, 7, 6, 5, 4, 3, 2, 1];
const ageTicksA = [6, 4, 2];
const ageTicksBC = [7, 6, 5, 4, 3, 2];

const ink = '#231f20';
const sans = 'Liberation Sans, Arial, sans-serif';
const serif = 'Liberation Serif, Times New Roman, serif';
const black = '#1b1b1b', red = '#ee3124', blue = '#1f4f9f';

const frames = {
    a: {left: 57, top: 43.3, width: 361, height: 1039.7, ticks: ageTicksA},
    b: {left: 472.2, top: 41.7, width: 363.3, height: 1042.3, ticks: ageTicksBC},
    c: {left: 891.5, top: 455.7, width: 396, height: 627.3, ticks: ageTicksBC}
};
// zero = pixel row of the value 0, per = pixels per 0.05
const panes = [
    {frame: 'a', zero: 244.3, per: 83.7, ticks: [-0.1, -0.05, 0, 0.05, 0.1], labels: [-0.1, -0.05, 0, 0.05]},
    {frame: 'a', zero: 546.7, per: 83.7, ticks: [-0.1, -0.05, 0, 0.05, 0.1], labels: [-0.05, 0, 0.05]},
    {frame: 'a', zero: 906, per: 68.3, ticks: [-0.1, -0.05, 0, 0.05, 0.1], labels: [-0.05, 0, 0.05, 0.1]},
    {frame: 'b', zero: 232.7, per: 73.9, ticks: [-0.1, -0.05, 0, 0.05, 0.1], labels: [-0.1, -0.05, 0, 0.05]},
    {frame: 'b', zero: 536, per: 73.7, ticks: [-0.05, 0, 0.05, 0.1], labels: [-0.05, 0, 0.05]},
    {frame: 'b', zero: 886.7, per: 66, ticks: [-0.1, -0.05, 0, 0.05, 0.1], labels: [-0.05, 0, 0.05, 0.1]},
    {frame: 'c', zero: 612, per: 51.9, ticks: [-0.1, -0.05, 0, 0.05, 0.1, 0.15], labels: [-0.1, -0.05, 0, 0.05, 0.1]},
    {frame: 'c', zero: 927.7, per: 52, ticks: [-0.15, -0.1, -0.05, 0, 0.05, 0.1], labels: [-0.1, -0.05, 0, 0.05, 0.1]}
];

function criarGrafico() {
    const grids = [], xAxes = [], yAxes = [], tops = [];
    const tickStyle = {color: ink, width: 1};
    const noLine = {show: false, onZero: false};
    panes.forEach((p, i) => {
        const f = frames[p.frame];
        const first = panes.findIndex(q => q.frame === p.frame) === i;
        const unit = p.per / 0.05;
        const min = (f.top - p.zero) / unit;
        const max = (f.top + f.height - p.zero) / unit;
        grids.push({
            left: f.left, top: f.top, width: f.width, height: f.height,
            show: first, borderColor: ink, borderWidth: 1.6,
            backgroundColor: 'transparent', containLabel: false, outerBoundsMode: 'none'
        });
        if (first) {
            xAxes.push({
                type: 'value', gridIndex: i, min: 1, max: 8, inverse: true, position: 'bottom',
                axisLine: noLine, splitLine: {show: false},
                axisTick: {inside: true, length: 5, customValues: f.ticks, lineStyle: tickStyle},
                axisLabel: {customValues: ageLabels, margin: 12, fontSize: 18, color: ink, fontFamily: sans}
            });
            tops.push({
                type: 'value', gridIndex: i, min: 1, max: 8, inverse: true, position: 'top',
                axisLine: noLine, splitLine: {show: false}, axisLabel: {show: false},
                axisTick: {inside: true, length: 5, customValues: f.ticks, lineStyle: tickStyle}
            });
        } else {
            xAxes.push({type: 'value', gridIndex: i, min: 1, max: 8, inverse: true, show: false, axisLine: noLine});
        }
        const yBase = {
            type: 'value', gridIndex: i, inverse: true, min: min, max: max,
            axisLine: noLine, splitLine: {show: false},
            axisTick: {inside: true, length: 5, customValues: p.ticks, lineStyle: tickStyle}
        };
        yAxes.push(Object.assign({}, yBase, {
            position: 'left',
            axisLabel: {customValues: p.labels, margin: 6, fontSize: 18, color: ink, fontFamily: sans}
        }));
        yAxes.push(Object.assign({}, yBase, {position: 'right', axisLabel: {show: false}}));
    });
    tops.forEach(t => xAxes.push(t));

    function band(pane, hi, lo, fill, stroke, z) {
        return {
            type: 'custom', coordinateSystem: 'cartesian2d', xAxisIndex: pane, yAxisIndex: pane * 2,
            silent: true, clip: true, z: z || 1, data: [hi[0]],
            renderItem: (params, api) => {
                const pts = hi.map(d => api.coord(d)).concat(lo.slice().reverse().map(d => api.coord(d)));
                return {
                    type: 'polygon', shape: {points: pts},
                    style: {fill: fill, stroke: stroke || null, lineWidth: stroke ? 0.6 : 0}
                };
            }
        };
    }
    function curve(pane, pts, color, width, dash, z) {
        return {
            type: 'line', xAxisIndex: pane, yAxisIndex: pane * 2, data: pts,
            showSymbol: false, symbol: 'none', silent: true, z: z || 3,
            lineStyle: {color: color, width: width, type: dash || 'solid', cap: 'butt', join: 'round'}
        };
    }

    const grey = '#e6e7e8', greyEdge = '#8f9092', pink = '#fdefe9';
    const greyT = 'rgba(150,158,165,0.28)', pinkT = 'rgba(248,160,130,0.24)';
    const series = [
        band(0, pc1OrigHi, pc1OrigLo, grey, greyEdge),
        curve(0, pc1OrigTrend, red, 2, [25, 27]),
        curve(0, pc1OrigLine, black, 2.4),
        band(1, pc1CorrHi, pc1CorrLo, grey, greyEdge),
        curve(1, pc1CorrTrend, red, 2, [25, 27]),
        curve(1, pc1CorrLine, black, 2.4),
        band(2, pc1CarbHi, pc1CarbLo, pink),
        curve(2, pc1CarbLine, red, 2.1),

        band(3, pc2OrigHi, pc2OrigLo, grey, greyEdge),
        curve(3, pc2OrigModel, blue, 2, [24, 27]),
        curve(3, pc2OrigLine, black, 2.4),
        band(4, pc2CorrHi, pc2CorrLo, grey, greyEdge),
        curve(4, pc2CorrModel, blue, 2, [24, 27]),
        curve(4, pc2CorrLine, black, 2.4),
        band(5, pc2CarbHi, pc2CarbLo, pink),
        curve(5, pc2CarbLine, red, 2.1),

        band(6, pc1CarbHi, pc1CarbLo, pinkT),
        band(6, pc2CorrHi, pc2CorrLo, greyT, 'rgba(110,110,110,0.45)'),
        curve(6, pc1CarbLine, red, 2.1),
        curve(6, pc2CorrLine, black, 2.4, null, 4),
        band(7, pc1CarbHi, pc1CarbLo, pinkT),
        band(7, pc2OrigHi, pc2OrigLo, greyT),
        curve(7, pc1CarbLine, red, 2.1),
        curve(7, pc2OrigLine, black, 2.4, null, 4)
    ];

    const rich = {
        b: {fontFamily: sans, fontWeight: 'bold', fontSize: 21, fill: ink},
        d: {fontFamily: serif, fontSize: 23, fill: ink},
        s: {fontFamily: sans, fontSize: 14, fill: ink, verticalAlign: 'top'},
        t: {fontFamily: sans, fontSize: 22, fill: ink}
    };
    function txt(x, y, text, align, size) {
        return {
            type: 'text', x: x, y: y, silent: true, z: 10,
            style: {
                text: text, rich: rich, fill: ink, fontFamily: sans, fontSize: size || 22,
                align: align || 'right', verticalAlign: 'middle'
            }
        };
    }
    const graphics = [
        txt(63, 21, '{b|a} PC1', 'left', 21),
        txt(478, 21, '{b|b} PC2', 'left', 21),
        txt(894, 433, '{b|c} Comparison of PC2 {d|δ}{s|18}O and PC1 {d|δ}{s|13}C', 'left', 21.5),
        txt(411, 62, '{d|δ}{s|18}{t|O orig}'),
        txt(406, 447, '{d|δ}{s|18}{t|O corr}'),
        txt(405, 732, '{d|δ}{s|13}{t|C + Ti}'),
        txt(832, 64, '{d|δ}{s|18}{t|O orig}'),
        txt(825, 423, '{d|δ}{s|18}{t|O corr}'),
        txt(489, 728, '{d|δ}{s|13}{t|C + Ti}', 'left'),
        txt(1257, 481, '{d|δ}{s|18}{t|O corr}'),
        txt(1264, 820, '{d|δ}{s|18}{t|O orig}'),
        txt(625, 1147, 'Age [kyrs BP]', 'center', 18)
    ];

    const chart = echarts.init(document.getElementById('grafico'), null, {renderer: 'canvas'});
    chart.setOption({
        animation: false,
        backgroundColor: '#ffffff',
        grid: grids,
        xAxis: xAxes,
        yAxis: yAxes,
        series: series,
        graphic: graphics
    });
}

window.onload = criarGrafico;
</script>
</body>
</html>
